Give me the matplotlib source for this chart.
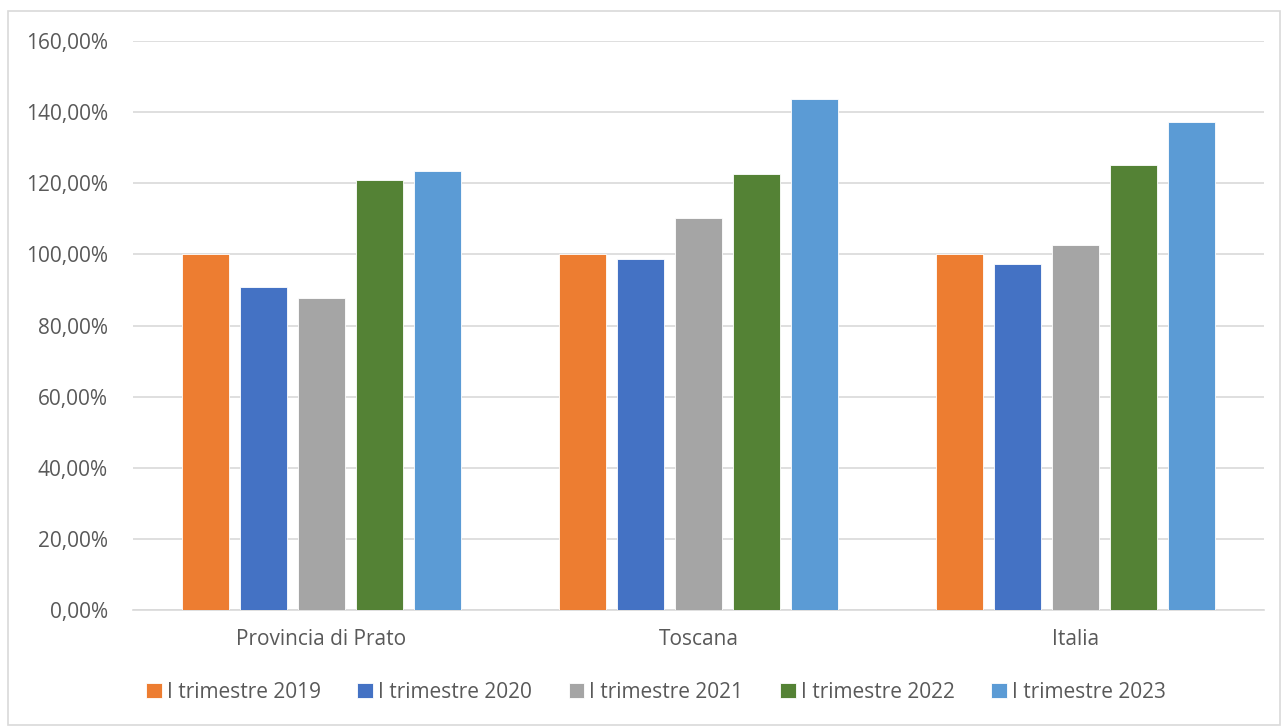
import numpy as np
import matplotlib.pyplot as plt
from matplotlib.patches import Rectangle
from matplotlib.ticker import FuncFormatter

plt.rcParams['font.family'] = ['Open Sans', 'DejaVu Sans']

categories = ['Provincia di Prato', 'Toscana', 'Italia']
series = ['I trimestre 2019', 'I trimestre 2020', 'I trimestre 2021',
          'I trimestre 2022', 'I trimestre 2023']
values = {
    'I trimestre 2019': [100.0, 100.0, 100.0],
    'I trimestre 2020': [90.8, 98.7, 97.3],
    'I trimestre 2021': [87.7, 110.2, 102.6],
    'I trimestre 2022': [120.9, 122.6, 125.1],
    'I trimestre 2023': [123.5, 143.7, 137.2],
}
colors = ['#ed7d31', '#4472c4', '#a5a5a5', '#548235', '#5b9bd5']
yticks = np.arange(0, 161, 20)

fig = plt.figure(figsize=(12.84, 7.27), dpi=100)
ax = fig.add_axes([133 / 1284, 1 - 610 / 727, (1264 - 133) / 1284, (610 - 41) / 727])

# frame around the whole chart area
fig.patches.append(Rectangle((8 / 1284, 2 / 727), 1272 / 1284, 714 / 727,
                             transform=fig.transFigure, fill=False,
                             edgecolor='#d9d9d9', linewidth=1.2))

x = np.arange(len(categories))
step = 0.154
width = 0.125
for i, (name, col) in enumerate(zip(series, colors)):
    offs = (i - 2) * step
    ax.bar(x + offs, values[name], width, color=col, label=name,
           edgecolor='white', linewidth=0.6, zorder=3)

ax.set_xlim(-0.5, 2.5)
ax.set_ylim(0, 160)
ax.set_yticks(yticks)
ax.yaxis.set_major_formatter(FuncFormatter(lambda v, p: f'{v:.2f}%'.replace('.', ',')))
ax.set_xticks(x)
ax.set_xticklabels(categories)
ax.grid(axis='y', color='#d9d9d9', linewidth=1.2, zorder=0)
for s in ['top', 'right', 'left']:
    ax.spines[s].set_visible(False)
ax.spines['bottom'].set_color('#d9d9d9')
ax.spines['bottom'].set_linewidth(1.2)
ax.tick_params(axis='both', length=0, labelsize=15, colors='#595959')
ax.tick_params(axis='y', pad=18)
ax.tick_params(axis='x', pad=14)

fig.legend(loc='center', bbox_to_anchor=(656 / 1284, 1 - 692 / 727), ncol=5,
           frameon=False, fontsize=15, handlelength=0.75, handleheight=0.75,
           handletextpad=0.25, columnspacing=1.75, labelcolor='#595959')

fig.savefig('out.png', dpi=100)
